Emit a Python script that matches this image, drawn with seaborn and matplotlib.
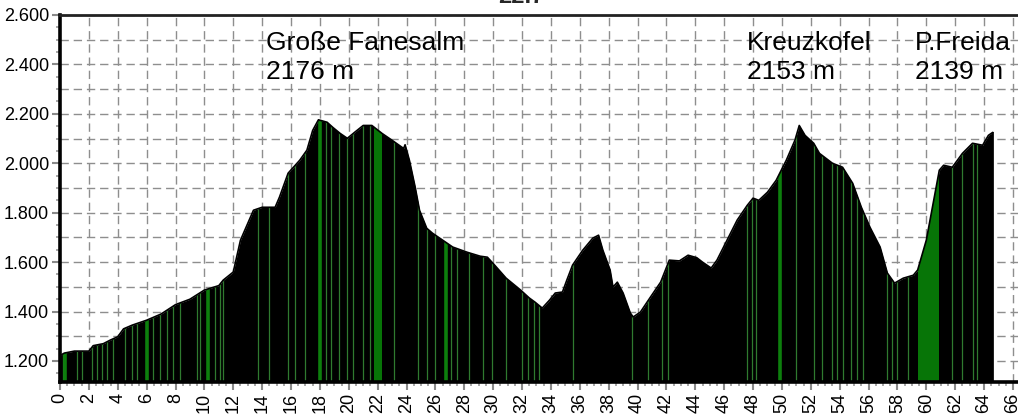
import numpy as np
import pandas as pd
import matplotlib
matplotlib.use("Agg")
import matplotlib.pyplot as plt
import matplotlib.ticker as mticker
import seaborn as sns

# ---- data -------------------------------------------------------------
km = [0, 0.3, 1.0, 2.0, 2.3, 3.0, 3.5, 4.0, 4.4, 5.0, 6.0, 7.0, 8.0, 9.0, 10.0,
      11.0, 11.3, 12.0, 12.5, 13.4, 14.0, 14.9, 15.2, 15.8, 16.6, 17.1, 17.5,
      17.9, 18.5, 18.9, 19.4, 19.9, 20.4, 21.0, 21.6, 22.3, 23.0, 23.8, 23.9,
      24.2, 24.6, 24.9, 25.4, 25.8, 26.3, 27.2, 28.2, 29.1, 29.6, 30.1, 30.9,
      31.9, 32.5, 32.9, 33.4, 33.9, 34.3, 34.8, 35.1, 35.5, 36.2, 36.9, 37.3,
      37.6, 38.1, 38.3, 38.6, 39.0, 39.5, 39.7, 40.2, 40.9, 41.6, 42.2, 42.9,
      43.5, 44.1, 44.5, 45.1, 45.5, 46.2, 46.9, 47.6, 48.0, 48.4, 49.0, 49.6,
      50.3, 50.9, 51.2, 51.6, 52.2, 52.6, 53.5, 54.2, 54.9, 55.5, 56.1, 56.8,
      57.3, 57.8, 58.4, 59.1, 59.4, 60.0, 60.9, 61.2, 61.8, 62.5, 63.2, 63.9,
      64.3, 64.6]
elev = [1222, 1232, 1240, 1240, 1262, 1270, 1285, 1298, 1330, 1345, 1365, 1390,
        1428, 1450, 1487, 1505, 1527, 1560, 1689, 1810, 1822, 1822, 1863, 1960,
        2012, 2053, 2133, 2176, 2166, 2145, 2121, 2101, 2125, 2153, 2153, 2121,
        2093, 2060, 2075, 2012, 1903, 1810, 1737, 1717, 1697, 1661, 1640, 1624,
        1620, 1588, 1535, 1487, 1455, 1438, 1414, 1446, 1475, 1479, 1527, 1588,
        1648, 1697, 1709, 1648, 1568, 1499, 1519, 1475, 1394, 1378, 1398, 1459,
        1519, 1608, 1605, 1628, 1618, 1600, 1576, 1608, 1689, 1770, 1830, 1859,
        1850, 1883, 1931, 2012, 2093, 2153, 2113, 2081, 2040, 2000, 1984, 1919,
        1822, 1741, 1661, 1556, 1515, 1535, 1547, 1568, 1689, 1972, 1992, 1984,
        2040, 2081, 2073, 2113, 2125]

thin_green = [0.23, 1.16, 1.5, 2.2, 2.54, 2.89, 3.23, 3.69, 4.5, 4.96, 5.3, 6.46,
              6.93, 7.4, 7.85, 8.3, 9.47, 9.7, 10.73, 11.08, 11.3, 13.7, 14.5,
              15.8, 16.3, 17.0, 18.4, 18.8, 19.3, 19.9, 20.3, 21.0, 21.5, 23.1,
              24.8, 25.4, 26.0, 27.1, 27.5, 28.3, 29.3, 29.9, 30.9, 32.0, 32.4,
              32.8, 33.2, 35.5, 39.6, 40.7, 41.7, 42.1, 47.6, 47.9, 48.2, 51.0,
              52.2, 52.8, 53.5, 53.8, 54.2, 54.8, 55.2, 55.6, 57.3, 57.6, 58.0,
              58.7, 61.8, 62.5, 63.2, 63.5]
medium_green = [0.35, 6.0, 10.27, 18.0, 26.7, 49.9]
band_start = [21.75, 59.4]
band_end = [22.3, 60.9]

peak_names = ["Große Fanesalm", "Kreuzkofel", "P.Freida"]
peak_heights = ["2176 m", "2153 m", "2139 m"]
peak_label_x = [14.3, 47.6, 59.2]

title = "22.7"

# ---- style ------------------------------------------------------------
sns.set_style("white")
plt.rcParams["font.family"] = ["Liberation Sans", "DejaVu Sans"]

df = pd.DataFrame({"km": km, "elev": elev})

fig = plt.figure(figsize=(10.18, 4.17), dpi=100)
ax = fig.add_axes([60 / 1018, 35 / 417, 958 / 1018, 367 / 417])

YMIN, YMAX = 1115, 2600
ax.set_xlim(0, 66.35)
ax.set_ylim(YMIN, YMAX)

# grid
ax.set_axisbelow(True)
ax.xaxis.set_major_locator(mticker.MultipleLocator(2))
ax.xaxis.set_minor_locator(mticker.MultipleLocator(0.5))
ax.yaxis.set_major_locator(mticker.MultipleLocator(200))
ax.yaxis.set_minor_locator(mticker.MultipleLocator(50))
for yv in np.arange(1200, 2601, 100):
    ax.axhline(yv, color="#8e8e8e", lw=1.0, ls=(0, (6, 3.5)), zorder=0)
for xv in np.arange(2, 67, 2):
    ax.axvline(xv, color="#8e8e8e", lw=1.0, ls=(0, (6, 3.5)), zorder=0)

# profile
poly = ax.fill_between(df["km"], df["elev"], YMIN, color="black", lw=0, zorder=2)
sns.lineplot(data=df, x="km", y="elev", ax=ax, color="black", lw=1.2,
             zorder=3, legend=False)
ax.vlines([km[-1]], YMIN, elev[-1], color="black", lw=1.2, zorder=3)

clip_path = poly.get_paths()[0]

lc1 = ax.vlines(thin_green, YMIN, YMAX, color="#2f7a2f", lw=0.9, zorder=2.5)
lc1.set_clip_path(clip_path, ax.transData)
lc2 = ax.vlines(medium_green, YMIN, YMAX, color="#0d7f0d", lw=2.6, zorder=2.5)
lc2.set_clip_path(clip_path, ax.transData)
for s, e in zip(band_start, band_end):
    sp = ax.axvspan(s, e, color="#077507", lw=0, zorder=2.5)
    sp.set_clip_path(clip_path, ax.transData)

# labels
for name, h, x in zip(peak_names, peak_heights, peak_label_x):
    ax.text(x, 2457, name, fontsize=19, color="black", va="baseline",
            ha="left", zorder=5)
    ax.text(x, 2343, h, fontsize=19, color="black", va="baseline",
            ha="left", zorder=5)

# axes / ticks
ax.set_xlabel("")
ax.set_ylabel("")
ax.set_xticks(np.arange(0, 67, 2))
ax.set_xticklabels([str(v) for v in range(0, 67, 2)], rotation=90)
ax.yaxis.set_major_formatter(
    mticker.FuncFormatter(lambda v, p: f"{int(v):,}".replace(",", ".")))
ax.tick_params(axis="both", which="major", direction="out", length=6,
               width=1.5, color="#8a8a8a", labelsize=13, labelcolor="black",
               pad=2)
ax.tick_params(axis="both", which="minor", direction="out", length=3,
               width=1.2, color="#9a9a9a")
ax.tick_params(axis="x", which="both", bottom=True)
ax.tick_params(axis="y", which="both", left=True)

for side in ["left", "bottom"]:
    ax.spines[side].set_color("black")
    ax.spines[side].set_linewidth(2.6)
ax.spines["top"].set_color("#222222")
ax.spines["top"].set_linewidth(2.0)
ax.spines["right"].set_visible(False)

fig.text(521 / 1018, 1 - 3 / 417, title, fontsize=17, fontweight="bold",
         ha="center", va="baseline")

fig.savefig("out.png", dpi=100)
